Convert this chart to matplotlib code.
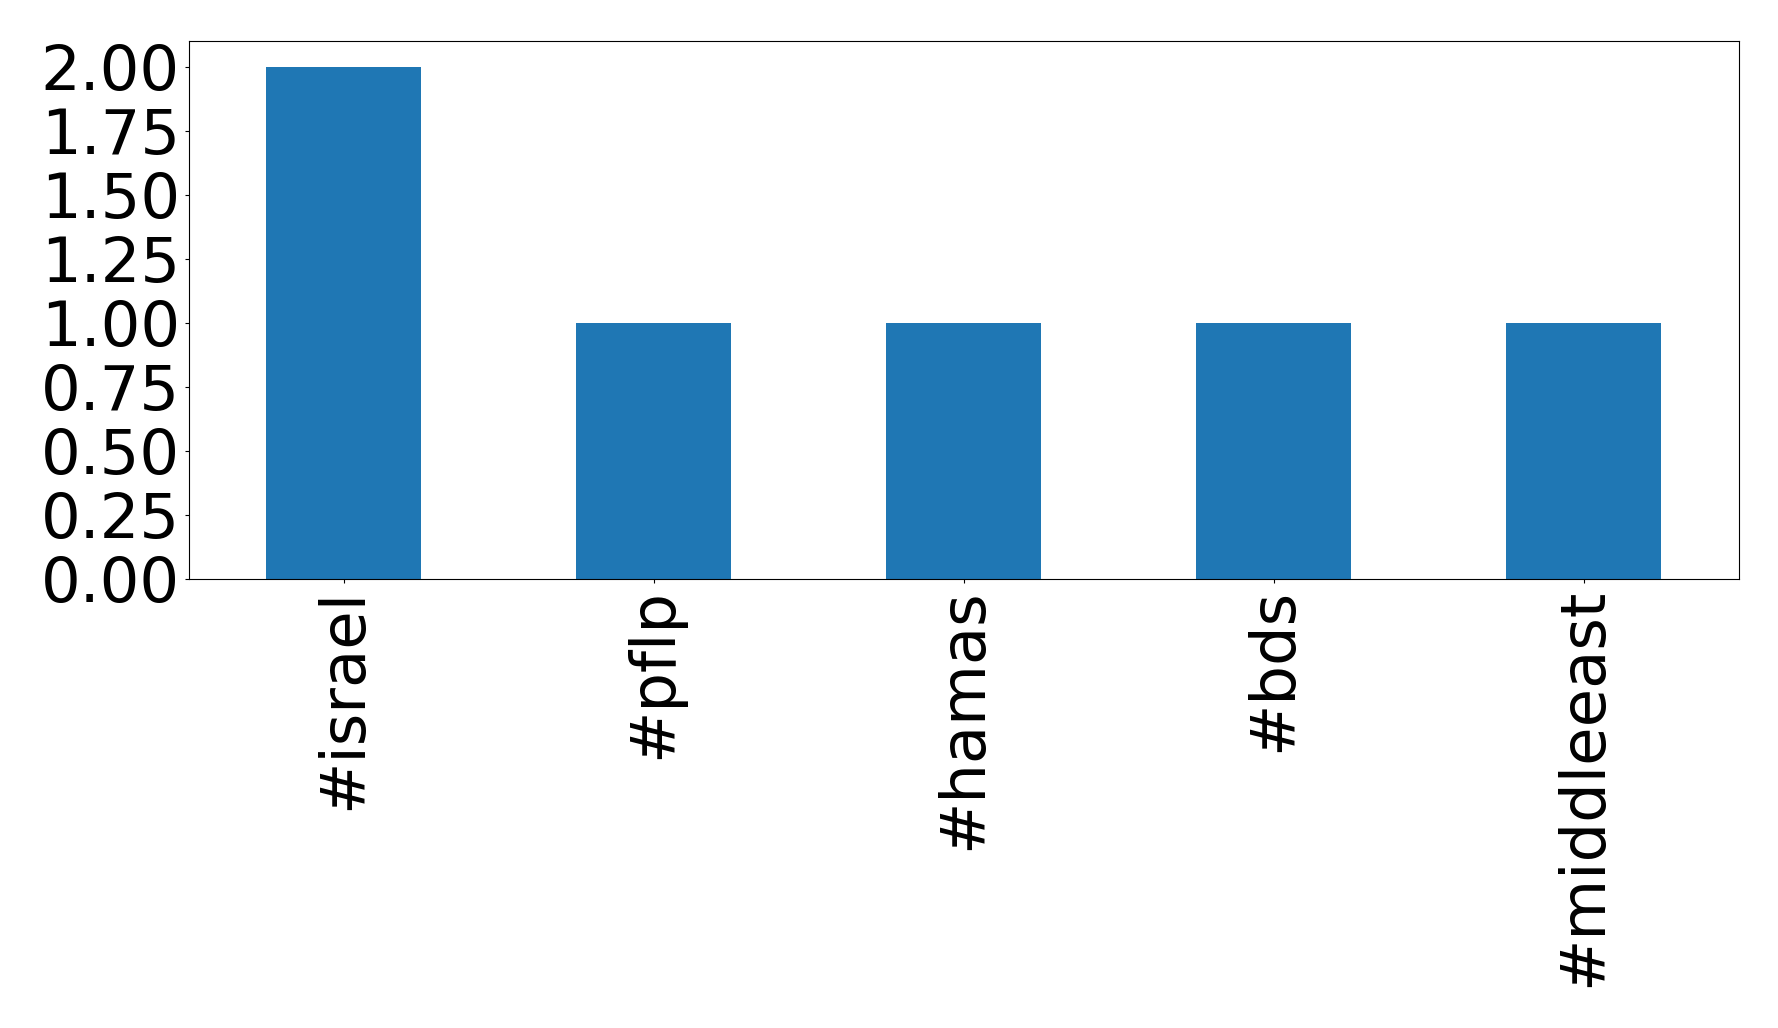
# Hashtag counts bar chart

# Import libraries:
import matplotlib
matplotlib.use("Agg")
import matplotlib.pyplot as plt
from matplotlib.ticker import MultipleLocator, FormatStrFormatter
import pandas as pd

# Data:
hashtags = ["#israel", "#pflp", "#hamas", "#bds", "#middleeast"]
counts = [2, 1, 1, 1, 1]

# Figure and axes:
fig = plt.figure(figsize=(17.78, 10.28), dpi=100)
ax = fig.add_axes([0.1063, 0.4368, 0.8717, 0.5232])

# Plotting:
s = pd.Series(counts, index=hashtags)
s.plot(kind="bar", ax=ax, color="#1f77b4")

# Ticks and labels:
ax.yaxis.set_major_locator(MultipleLocator(0.25))
ax.yaxis.set_major_formatter(FormatStrFormatter("%.2f"))
ax.tick_params(axis="both", labelsize=45, length=3)
ax.set_xlabel("")

fig.savefig("out.png", dpi=100)
